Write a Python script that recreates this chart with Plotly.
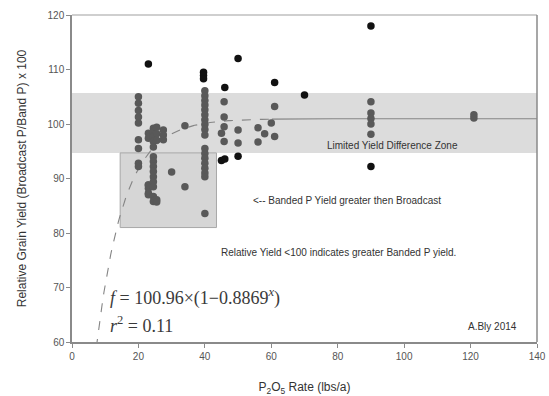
import numpy as np
import plotly.graph_objects as go

# ---- data ----
gray_x = ([20]*9 + [23]*7 + [24.5]*14 + [25.5]*5 + [27.5]*3 + [30, 34, 34]
          + [40]*18 + [45.8, 45.8, 45.8, 45.8, 45] + [50, 50]
          + [56, 56, 58, 60, 61, 61] + [90]*5 + [121, 121])
gray_y = ([105, 103.8, 102.5, 101.3, 100.2, 97.1, 95.5, 92.8, 92.2]
          + [98.3, 97.4, 88.8, 88.2, 87.3, 88.8, 87.0]
          + [99.2, 98.6, 97.7, 96.8, 95.8, 94.0, 93.1, 92.2, 91.3, 90.3, 89.4, 88.5, 86.7, 85.8]
          + [99.4, 98.2, 97.0, 86.1, 85.7]
          + [98.9, 98.0, 97.1]
          + [91.2, 88.5, 99.7]
          + [106.1, 105.2, 104.3, 103.5, 102.6, 101.7, 100.8, 99.9, 99.0, 98.0,
             95.5, 94.6, 93.7, 92.8, 91.9, 91.0, 90.3, 83.6]
          + [104.1, 101.3, 99.5, 96.8, 98.3]
          + [98.9, 96.5]
          + [99.3, 96.7, 98.2, 100.2, 97.7, 103.2]
          + [104.1, 102.0, 101.0, 100.0, 98.1]
          + [101.7, 101.1])

black_x = [23, 39.6, 39.6, 39.6, 46, 45, 46, 50, 50, 61, 70, 90, 90]
black_y = [111, 109.5, 108.9, 108.3, 106.7, 93.3, 93.6, 112, 94.1, 107.6, 105.3, 118, 92.2]

fit_a, fit_b = 100.96, 0.8869          # f = a*(1 - b^x)
band_y = [94.7, 105.7]                  # limited yield difference zone
box_x, box_y = [14.5, 43.5], [81, 94.7]  # banded P greater box

x_ticks = [0, 20, 40, 60, 80, 100, 120, 140]
y_ticks = [60, 70, 80, 90, 100, 110, 120]

# ---- figure ----
xs = np.linspace(7.3, 140, 400)
fy = fit_a * (1 - fit_b ** xs)

fig = go.Figure()
fig.add_trace(go.Scatter(x=xs[xs <= 60], y=fy[xs <= 60], mode="lines",
                         line=dict(color="#858585", width=1.1, dash="dash"),
                         hoverinfo="skip", showlegend=False))
fig.add_trace(go.Scatter(x=xs[xs >= 60], y=fy[xs >= 60], mode="lines",
                         line=dict(color="#858585", width=1.1),
                         hoverinfo="skip", showlegend=False))
fig.add_trace(go.Scatter(x=gray_x, y=gray_y, mode="markers",
                         marker=dict(color="#595959", size=7.5),
                         showlegend=False))
fig.add_trace(go.Scatter(x=black_x, y=black_y, mode="markers",
                         marker=dict(color="#111111", size=7.5),
                         showlegend=False))

fig.add_shape(type="rect", xref="x", yref="y", x0=0, x1=140, y0=band_y[0], y1=band_y[1],
              fillcolor="#dcdcdc", line=dict(width=0), layer="below")
fig.add_shape(type="rect", xref="x", yref="y", x0=box_x[0], x1=box_x[1], y0=box_y[0], y1=box_y[1],
              fillcolor="#d6d6d6", line=dict(color="#a8a8a8", width=1), layer="below")
# frame top/right
fig.add_shape(type="line", xref="paper", yref="paper", x0=0, x1=1, y0=1, y1=1,
              line=dict(color="#cfcfcf", width=2))
fig.add_shape(type="line", xref="paper", yref="paper", x0=1, x1=1, y0=0, y1=1,
              line=dict(color="#8a8a8a", width=1.5))

txt = dict(family="Liberation Sans, Arial, sans-serif", size=10, color="#333333")
fig.add_annotation(x=96.5, y=96.0, text="Limited Yield Difference Zone", showarrow=False, font=txt)
fig.add_annotation(x=82.8, y=85.9, text="<-- Banded P Yield greater then Broadcast", showarrow=False, font=txt)
fig.add_annotation(x=80.3, y=76.4, text="Relative Yield <100 indicates greater Banded P yield.",
                   showarrow=False, font=txt)
fig.add_annotation(x=126.7, y=62.8, text="A.Bly 2014", showarrow=False, font=txt)
serif = dict(family="Liberation Serif, Times New Roman, serif", size=18, color="#3a3a3a")
fig.add_annotation(x=10.7, y=68.2, xanchor="left",
                   text="<i>f</i> = 100.96×(1−0.8869<sup><i>x</i></sup>)", showarrow=False, font=serif)
fig.add_annotation(x=10.7, y=63.2, xanchor="left",
                   text="<i>r</i><sup>2</sup> = 0.11", showarrow=False, font=serif)

fig.update_layout(
    width=549, height=396,
    margin=dict(l=72, r=12, t=15, b=54),
    plot_bgcolor="white", paper_bgcolor="white",
    font=dict(family="Liberation Sans, Arial, sans-serif", size=10, color="#555555"),
    xaxis=dict(range=[0, 140], tickvals=x_ticks, showgrid=False, zeroline=False,
               showline=True, linecolor="#8a8a8a", linewidth=1.5, automargin=False,
               ticks="outside", ticklen=4, tickcolor="#8a8a8a",
               title=dict(text="P<sub>2</sub>O<sub>5</sub> Rate (lbs/a)",
                          font=dict(size=12, color="#333333"), standoff=25)),
    yaxis=dict(range=[60, 120], tickvals=y_ticks, showgrid=False, zeroline=False,
               showline=True, linecolor="#8a8a8a", linewidth=1.5, automargin=False,
               ticks="outside", ticklen=4, tickcolor="#8a8a8a",
               title=dict(text="Relative Grain Yield (Broadcast P/Band P) x 100",
                          font=dict(size=12, color="#333333"), standoff=18)),
)

fig.write_html("out.html", config={"displayModeBar": False},
               post_script="document.body.style.margin='0';")
